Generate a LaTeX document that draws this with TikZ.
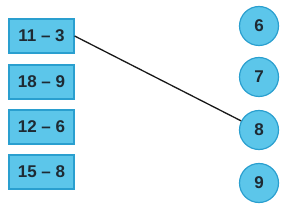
\documentclass[tikz,border=0pt]{standalone}
\usepackage{fontspec}
\setmainfont{Liberation Sans}
\definecolor{boxfill}{HTML}{5CC6EA}
\definecolor{boxline}{HTML}{2A9FCF}
\definecolor{txt}{HTML}{1E2A33}
\begin{document}
\begin{tikzpicture}[x=1pt,y=-1pt,
  numbox/.style={draw=boxline,line width=1.2pt,fill=boxfill,minimum width=65pt,minimum height=34pt,inner sep=0pt,font=\fontsize{17}{17}\selectfont\bfseries,text=txt},
  numcirc/.style={circle,draw=boxline,line width=1.2pt,fill=boxfill,minimum size=39pt,inner sep=0pt,font=\fontsize{17}{17}\selectfont\bfseries,text=txt}]
\useasboundingbox (0,0) rectangle (283,208);
\node[numbox] (b1) at (41.5,36) {11 – 3};
\node[numbox] (b2) at (41.5,82) {18 – 9};
\node[numbox] (b3) at (41.5,127) {12 – 6};
\node[numbox] (b4) at (41.5,172) {15 – 8};
\node[numcirc] (c6) at (259,26) {6};
\node[numcirc] (c7) at (259,77) {7};
\node[numcirc] (c8) at (259,130) {8};
\node[numcirc] (c9) at (259,183) {9};
\draw[line width=1.3pt,black!90] (b1.east) -- (c8);
\end{tikzpicture}
\end{document}
